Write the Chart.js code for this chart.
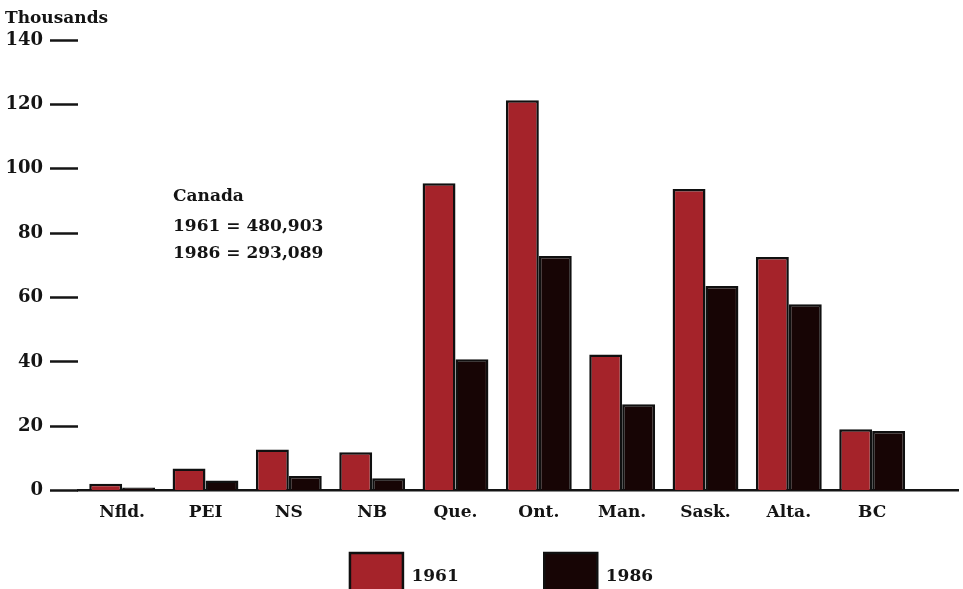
<!DOCTYPE html>
<html>
<head>
<meta charset="utf-8">
<script src="https://cdn.jsdelivr.net/npm/chart.js@4.4.0/dist/chart.umd.min.js"></script>
<style>
html,body{margin:0;padding:0;background:#ffffff;}
#wrap{width:963px;height:589px;position:relative;}
</style>
</head>
<body>
<div id="wrap"><canvas id="c"></canvas></div>
<script>
const categories = ['Nfld.', 'PEI', 'NS', 'NB', 'Que.', 'Ont.', 'Man.', 'Sask.', 'Alta.', 'BC'];
const values1961 = [2.1, 6.9, 12.8, 11.9, 95.5, 121.3, 42.3, 93.7, 72.6, 19.1];
const values1986 = [1.0, 3.1, 4.5, 3.8, 40.8, 72.9, 26.8, 63.6, 57.9, 18.5];
const seriesLabels = ['1961', '1986'];
const yTickValues = [0, 20, 40, 60, 80, 100, 120, 140];
const unitLabel = 'Thousands';
const noteLines = ['Canada', '1961 = 480,903', '1986 = 293,089'];

const FONT = '"DejaVu Serif", "Liberation Serif", serif';
const INK = '#141414';

Chart.defaults.font.family = FONT;
Chart.defaults.color = INK;

const notePlugin = {
  id: 'note',
  afterDraw(chart) {
    const {ctx} = chart;
    const xs = chart.scales.x, ys = chart.scales.y;
    const px = xs.getPixelForValue(0.61);
    const py = ys.getPixelForValue(91.5);
    ctx.save();
    ctx.font = 'bold 17px ' + FONT;
    ctx.fillStyle = INK;
    ctx.textAlign = 'left';
    ctx.textBaseline = 'middle';
    const gaps = [0, 30, 57];
    noteLines.forEach((t, i) => ctx.fillText(t, px, py + gaps[i]));
    ctx.restore();
  }
};

const legendPlace = {
  id: 'legendPlace',
  afterLayout(chart) {
    const l = chart.legend;
    if (!l) return;
    const pad = l.options.labels.padding;
    const dy = 553 - (l.top + pad);
    l.top += dy;
    l.bottom = chart.height + 60;
    l.height = l.bottom - l.top;
    l.left += 20; l.right += 20;
  }
};

new Chart(document.getElementById('c'), {
  type: 'bar',
  data: {
    datasets: [
      {
        label: seriesLabels[0],
        data: values1961.map((v, i) => ({x: i, y: v})),
        backgroundColor: '#a5232a',
        borderColor: '#101010',
        borderWidth: 2.5
      },
      {
        label: seriesLabels[1],
        data: values1986.map((v, i) => ({x: i, y: v})),
        backgroundColor: '#170505',
        borderColor: '#101010',
        borderWidth: 2.5
      }
    ]
  },
  options: {
    responsive: true,
    maintainAspectRatio: false,
    animation: false,
    devicePixelRatio: 1,
    categoryPercentage: 0.79,
    barPercentage: 1.0,
    layout: {padding: {left: 5, right: 5, top: 0, bottom: 0}},
    scales: {
      x: {
        type: 'linear',
        position: 'bottom',
        offset: false,
        min: -0.53,
        max: 10.03,
        afterBuildTicks: (s) => { s.ticks = categories.map((c, i) => ({value: i})); },
        ticks: {
          autoSkip: false,
          maxRotation: 0,
          padding: 12,
          color: INK,
          font: {size: 17, weight: 'bold'},
          callback: (v) => categories[v] ?? ''
        },
        grid: {display: false, drawTicks: false, offset: false},
        border: {display: true, color: INK, width: 2.5}
      },
      y: {
        type: 'linear',
        position: 'left',
        min: 0,
        max: 140,
        afterBuildTicks: (s) => { s.ticks = yTickValues.map(v => ({value: v})); },
        afterFit: (s) => { s.width = 73; },
        ticks: {
          padding: 7,
          color: INK,
          font: {size: 18, weight: 'bold'}
        },
        grid: {
          display: true,
          drawOnChartArea: false,
          drawTicks: true,
          tickLength: 28,
          tickWidth: 2.5,
          tickColor: INK
        },
        border: {display: false}
      }
    },
    plugins: {
      title: {
        display: true,
        text: unitLabel,
        align: 'start',
        color: INK,
        font: {size: 17, weight: 'bold'},
        padding: {top: 8, bottom: 11.6}
      },
      legend: {
        display: true,
        position: 'bottom',
        maxHeight: 54,
        labels: {
          boxWidth: 53,
          boxHeight: 48,
          padding: 85.5,
          color: INK,
          font: {size: 17, weight: 'bold'}
        }
      },
      tooltip: {enabled: false}
    }
  },
  plugins: [notePlugin, legendPlace]
});
</script>
</body>
</html>
